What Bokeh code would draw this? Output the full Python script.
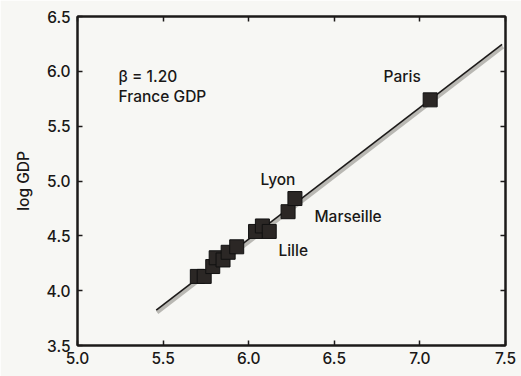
from bokeh.plotting import figure
from bokeh.models import LinearAxis, Range1d, FixedTicker, NumeralTickFormatter, ColumnDataSource
from bokeh.embed import file_html
from bokeh.resources import INLINE
from bokeh.core.properties import value

# log population (x) and log GDP (y) of French urban areas
log_pop = [5.70, 5.74, 5.79, 5.81, 5.85, 5.88, 5.93, 6.04, 6.08, 6.12, 6.23, 6.27, 7.06]
log_gdp = [4.13, 4.13, 4.22, 4.30, 4.28, 4.35, 4.40, 4.54, 4.59, 4.54, 4.72, 4.84, 5.74]

# named cities (index into the arrays above)
city_names = ["Paris", "Lyon", "Marseille", "Lille"]
city_index = [12, 11, 10, 9]

# scaling fit
beta = 1.20
intercept = -2.73
fit_x = [5.46, 7.48]

x_ticks = [5.0, 5.5, 6.0, 6.5, 7.0, 7.5]
y_ticks = [3.5, 4.0, 4.5, 5.0, 5.5, 6.0, 6.5]

FONT = "'Inter Medium', 'Inter SemiBold', Inter"
STYLE = "normal"
INK = "#1c1a19"
TEXT = "#1a1817"
PAPER = "#f7f7f4"
FS = "15.5px"

p = figure(width=521, height=376, output_backend="svg", toolbar_location=None,
           x_range=Range1d(5.0, 7.5), y_range=Range1d(3.5, 6.5),
           x_axis_location=None, y_axis_location=None,
           min_border_left=77, min_border_right=16, min_border_top=16, min_border_bottom=31)
p.background_fill_color = PAPER
p.border_fill_color = PAPER
p.outline_line_color = INK
p.outline_line_width = 2
p.grid.visible = False


def style_axis(ax, show_labels, ticks):
    ax.major_tick_in = 5
    ax.major_tick_out = 0
    ax.minor_tick_line_color = None
    ax.major_tick_line_color = INK
    ax.major_tick_line_width = 1.5
    ax.axis_line_color = INK
    ax.axis_line_width = 2
    ax.major_label_text_font = FONT
    ax.major_label_text_font_style = STYLE
    ax.major_label_text_color = TEXT
    ax.major_label_text_font_size = FS
    if not show_labels:
        ax.major_label_overrides = {t: "" for t in ticks}
        ax.major_label_standoff = 0


xb = LinearAxis(ticker=FixedTicker(ticks=x_ticks), formatter=NumeralTickFormatter(format="0.0"))
style_axis(xb, True, x_ticks)
xb.major_label_standoff = 6
p.add_layout(xb, "below")

yl = LinearAxis(ticker=FixedTicker(ticks=y_ticks), formatter=NumeralTickFormatter(format="0.0"),
                axis_label="log GDP")
style_axis(yl, True, y_ticks)
yl.major_label_standoff = 7
yl.axis_label_text_font = FONT
yl.axis_label_text_font_style = STYLE
yl.axis_label_text_font_size = FS
yl.axis_label_text_color = TEXT
yl.axis_label_standoff = 11
p.add_layout(yl, "left")

xt = LinearAxis(ticker=FixedTicker(ticks=x_ticks))
style_axis(xt, False, x_ticks)
p.add_layout(xt, "above")

yr = LinearAxis(ticker=FixedTicker(ticks=y_ticks))
style_axis(yr, False, y_ticks)
p.add_layout(yr, "right")

# fit line: soft grey shadow with a dark line on top
fit_y = [beta * x + intercept for x in fit_x]
p.line([x + 0.005 for x in fit_x], [y - 0.02 for y in fit_y], line_color="#b9b8b3", line_width=4)
p.line(fit_x, fit_y, line_color=INK, line_width=1.6)

p.scatter(log_pop, log_gdp, marker="square", size=14,
          fill_color="#2b2725", line_color="#111111", line_width=1)

# city labels placed beside their points
labels = ColumnDataSource(dict(
    x=[log_pop[i] for i in city_index],
    y=[log_gdp[i] for i in city_index],
    text=city_names,
    xo=[-28, -17, 60, 24],
    yo=[-23, -19, 5, 19],
))
p.text(x="x", y="y", text="text", source=labels, x_offset="xo", y_offset="yo",
       text_align="center", text_baseline="middle",
       text_font=value(FONT), text_font_style=STYLE, text_font_size=FS, text_color=TEXT)

p.text(x=[5.24, 5.24], y=[5.95, 5.77], text=[f"\u03b2 = {beta:.2f}", "France GDP"],
       text_align="left", text_baseline="middle",
       text_font=value(FONT), text_font_style=STYLE, text_font_size=FS, text_color=TEXT)

open("out.html", "w").write(file_html(p, INLINE))
